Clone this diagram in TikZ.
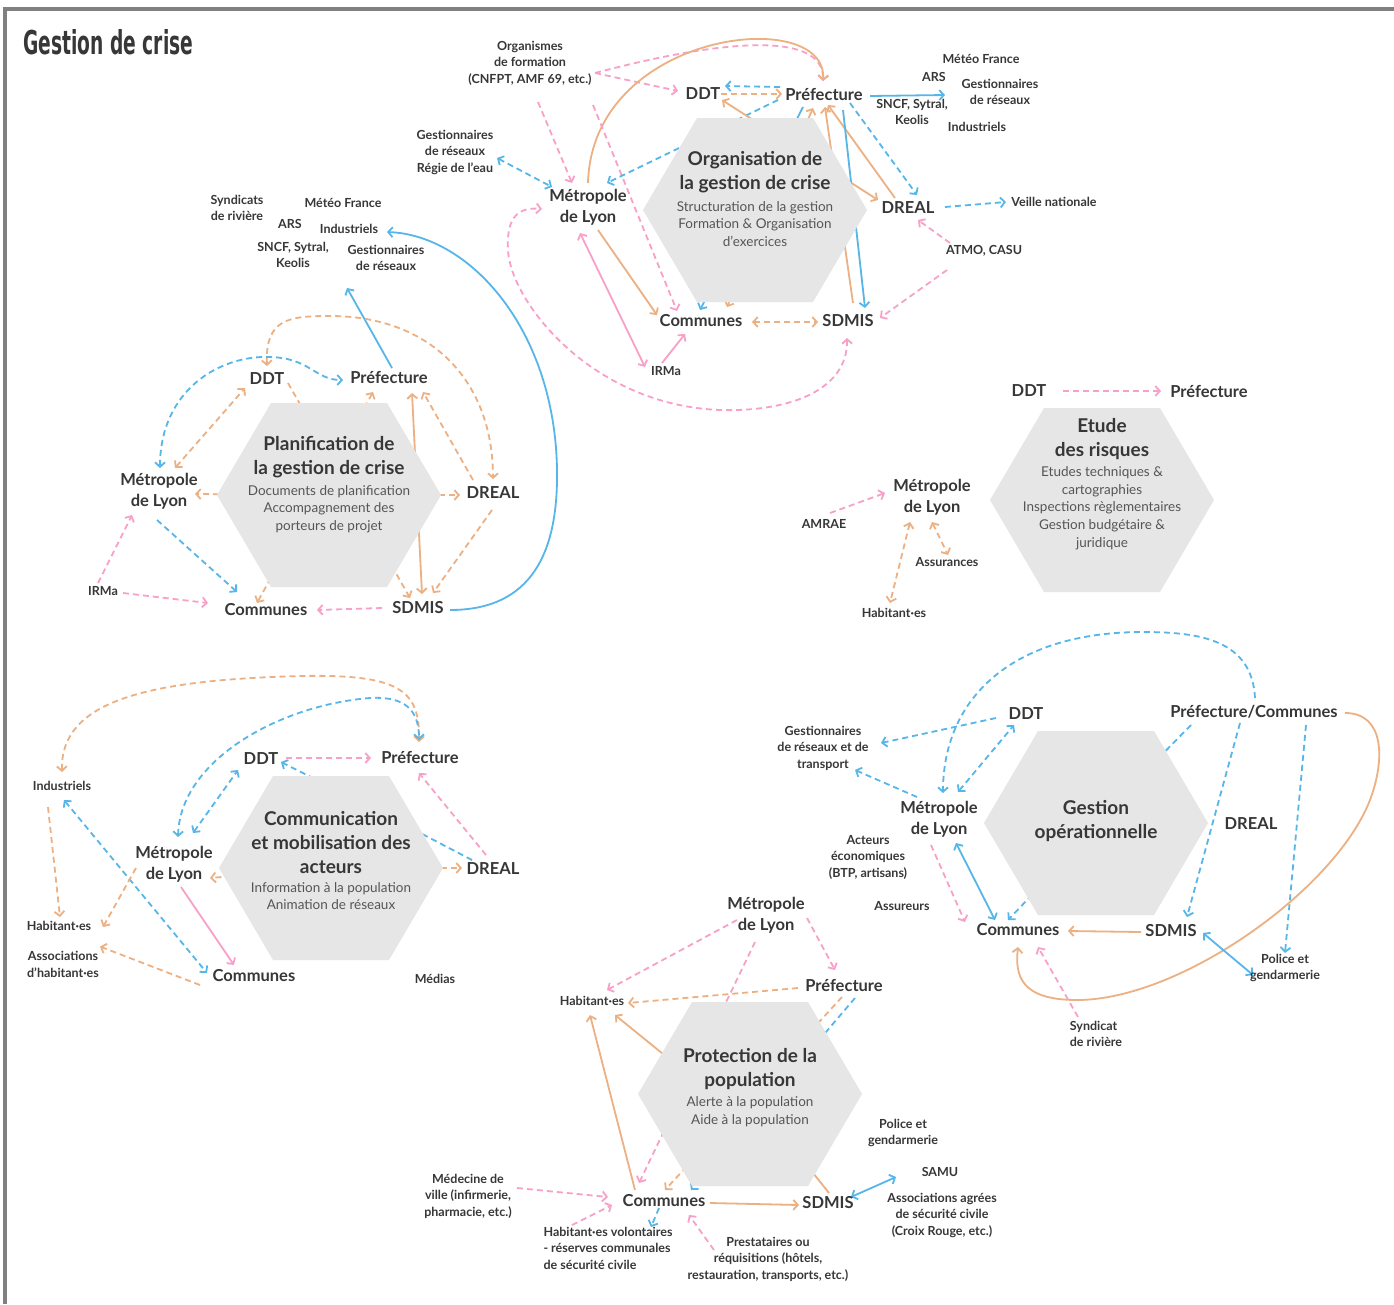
\documentclass[tikz,border=0pt]{standalone}
\usepackage{fontspec}
\usepackage{graphicx}
\setmainfont{Lato}
\newfontfamily\titlefam{DejaVu Sans}
\usetikzlibrary{arrows.meta}
\pgfdeclarelayer{background}
\pgfsetlayers{background,main}
\definecolor{orC}{RGB}{236,176,130}
\definecolor{blC}{RGB}{86,182,232}
\definecolor{pkC}{RGB}{249,160,200}
\definecolor{txC}{RGB}{55,55,55}
\definecolor{subC}{RGB}{85,85,85}
\definecolor{hexC}{RGB}{230,230,230}
\definecolor{frC}{RGB}{128,128,128}
\newcommand\mylab{\bfseries\fontsize{16.5}{21.5}\selectfont}
\newcommand\mysm{\bfseries\fontsize{12.5}{16.5}\selectfont}
\newcommand\myttl{\bfseries\fontsize{19}{24}\selectfont}
\newcommand\mysub{\fontsize{13.5}{17.7}\selectfont}
\newcommand\hexat[1]{\fill[hexC] ([shift={(-112,0)}]#1) -- ([shift={(-58,-92)}]#1) -- ([shift={(58,-92)}]#1) -- ([shift={(112,0)}]#1) -- ([shift={(58,92)}]#1) -- ([shift={(-58,92)}]#1) -- cycle;}
\begin{document}
\begin{tikzpicture}[x=1pt,y=-1pt,
  >={Straight Barb[length=4.5pt,width=10pt]},
  oS/.style={draw=orC,line width=1.8pt},
  oD/.style={oS,dash pattern=on 6pt off 4pt},
  bS/.style={draw=blC,line width=1.8pt},
  bD/.style={bS,dash pattern=on 6pt off 4pt},
  pS/.style={draw=pkC,line width=1.8pt},
  pD/.style={pS,dash pattern=on 6pt off 4pt},
  big/.style={font=\mylab,text=txC,align=center,inner sep=1pt},
  sml/.style={font=\mysm,text=txC,align=center,inner sep=1pt},
  hexttl/.style={font=\myttl,text=txC,align=center,inner sep=0pt},
  hexsub/.style={font=\mysub,text=subC,align=center,inner sep=0pt}]
\useasboundingbox (0,0) rectangle (1394,1304);
\draw[frC,line width=4pt] (5,1304) -- (5,9) -- (1394,9);
\node[anchor=west,inner sep=0pt,text=txC] (title) at (23,42.5) {\resizebox{170pt}{25pt}{\titlefam\bfseries Gestion de crise}};
% hex centres
\coordinate (hA) at (755,210);
\coordinate (hB) at (329,495);
\coordinate (hC) at (1102,500);
\coordinate (hD) at (331,868);
\coordinate (hE) at (1096,823);
\coordinate (hF) at (750,1094);
\hexat{hA}\hexat{hB}\hexat{hC}\hexat{hD}\hexat{hE}\hexat{hF}
% ---------- A : Organisation
\node[hexttl] (hAt) at (755,172) {Organisation de\\la gestion de crise};
\node[hexsub] (hAs) at (755,224) {Structuration de la gestion\\Formation \& Organisation\\d'exercices};
\node[sml] (aOrg) at (530,63) {Organismes\\de formation\\(CNFPT, AMF 69, etc.)};
\node[big] (aDDT) at (703,94) {DDT};
\node[big] (aPref) at (824,94) {Préfecture};
\node[sml] (aMeteo) at (981,59) {Météo France};
\node[sml] (aARS) at (934,77) {ARS};
\node[sml] (aGest) at (1000,92) {Gestionnaires\\de réseaux};
\node[sml] (aSNCF) at (912,112) {SNCF, Sytral,\\Keolis};
\node[sml] (aInd) at (977,127) {Industriels};
\node[sml] (aGreg) at (455,152) {Gestionnaires\\de réseaux\\Régie de l'eau};
\node[big] (aMet) at (588,207) {Métropole\\de Lyon};
\node[big] (aDREAL) at (908,208) {DREAL};
\node[sml] (aVeille) at (1054,202) {Veille nationale};
\node[sml] (aATMO) at (984,251) {ATMO, CASU};
\node[big] (aComm) at (701,321) {Communes};
\node[big] (aSDMIS) at (848,321) {SDMIS};
\node[sml] (aIRMa) at (666,371) {IRMa};
\coordinate (aPartners) at (945,95);
% ---------- B : Planification
\node[hexttl] (hBt) at (329,457) {Planification de\\la gestion de crise};
\node[hexsub] (hBs) at (329,509) {Documents de planification\\Accompagnement des\\porteurs de projet};
\node[sml] (bSynd) at (237,208) {Syndicats\\de rivière};
\node[sml] (bMeteo) at (343,203) {Météo France};
\node[sml] (bARS) at (290,224) {ARS};
\node[sml] (bInd) at (349,229) {Industriels};
\node[sml] (bSNCF) at (293,255) {SNCF, Sytral,\\Keolis};
\node[sml] (bGest) at (386,258) {Gestionnaires\\de réseaux};
\node[big] (bDDT) at (267,379) {DDT};
\node[big] (bPref) at (389,377) {Préfecture};
\node[big] (bMet) at (159,491) {Métropole\\de Lyon};
\node[big] (bDREAL) at (493,493) {DREAL};
\node[sml] (bIRMa) at (103,591) {IRMa};
\node[big] (bComm) at (266,610) {Communes};
\node[big] (bSDMIS) at (418,608) {SDMIS};
\coordinate (bPartners) at (347,288);
% ---------- C : Etude
\node[hexttl] (hCt) at (1102,439) {Etude\\des risques};
\node[hexsub] (hCs) at (1102,508) {Etudes techniques \&\\cartographies\\Inspections règlementaires\\Gestion budgétaire \&\\juridique};
\node[big] (cDDT) at (1029,391) {DDT};
\node[big] (cPref) at (1209,391) {Préfecture};
\node[big] (cMet) at (932,497) {Métropole\\de Lyon};
\node[sml] (cAMRAE) at (824,524) {AMRAE};
\node[sml] (cAssur) at (947,562) {Assurances};
\node[sml] (cHab) at (894,613) {Habitant·es};
% ---------- D : Communication
\node[hexttl] (hDt) at (331,842) {Communication\\et mobilisation des\\acteurs};
\node[hexsub] (hDs) at (331,896) {Information à la population\\Animation de réseaux};
\node[sml] (dInd) at (62,786) {Industriels};
\node[sml] (dHab) at (59,926) {Habitant·es};
\node[sml] (dAssoc) at (63,964.5) {Associations\\d'habitant·es};
\node[big] (dDDT) at (261,759) {DDT};
\node[big] (dPref) at (420,757) {Préfecture};
\node[big] (dMet) at (174,864) {Métropole\\de Lyon};
\node[big] (dDREAL) at (493,869) {DREAL};
\node[big] (dComm) at (254,976) {Communes};
\node[sml] (dMedias) at (435,979) {Médias};
% ---------- E : Gestion operationnelle
\node[hexttl] (hEt) at (1096,821) {Gestion\\opérationnelle};
\node[sml] (eGest) at (823,748) {Gestionnaires\\de réseaux et de\\transport};
\node[big] (eDDT) at (1026,714) {DDT};
\node[big] (ePC) at (1254,712) {Préfecture/Communes};
\node[big] (eMet) at (939,819) {Métropole\\de Lyon};
\node[big] (eDREAL) at (1251,824) {DREAL};
\node[sml] (eAct) at (868,857) {Acteurs\\économiques\\(BTP, artisans)};
\node[sml] (eAssur) at (902,906) {Assureurs};
\node[big] (eComm) at (1018,930) {Communes};
\node[big] (eSDMIS) at (1171,931) {SDMIS};
\node[sml] (ePol) at (1285,968) {Police et\\gendarmerie};
\node[sml,align=left] (eSynd) at (1096,1034) {Syndicat\\de rivière};
% ---------- F : Protection
\node[hexttl] (hFt) at (750,1069) {Protection de la\\population};
\node[hexsub] (hFs) at (750,1111.5) {Alerte à la population\\Aide à la population};
\node[big] (fMet) at (766,915) {Métropole\\de Lyon};
\node[big] (fPref) at (844,985) {Préfecture};
\node[sml] (fHab) at (592,1001) {Habitant·es};
\node[sml] (fPol) at (903,1133) {Police et\\gendarmerie};
\node[sml] (fSAMU) at (940,1172) {SAMU};
\node[sml] (fAssoc) at (942,1215) {Associations agrées\\de sécurité civile\\(Croix Rouge, etc.)};
\node[sml] (fMed) at (468,1196) {Médecine de\\ville (infirmerie,\\pharmacie, etc.)};
\node[big] (fComm) at (664,1201) {Communes};
\node[big] (fSDMIS) at (828,1203) {SDMIS};
\node[sml,align=left] (fVol) at (608,1248) {Habitant·es volontaires\\- réserves communales\\de sécurité civile};
\node[sml] (fPrest) at (768,1259) {Prestataires ou\\réquisitions (hôtels,\\restauration, transports, etc.)};
% ================= connectors
\begin{pgfonlayer}{background}
\fill[white] (0,0) rectangle (1394,1304);
% A
\draw[pD,->] ([shift={(65,10)}]aOrg.center) -- ([shift={(-25,-3)}]aDDT.center);
\draw[pD,->] ([shift={(65,10)}]aOrg.center) .. controls (720,40) and (824,30) .. ([shift={(-1,-13)}]aPref.center);
\draw[oS,->] ([shift={(0,-24)}]aMet.center) .. controls (592,30) and (828,5) .. ([shift={(-1,-13)}]aPref.center);
\draw[pD,->] ([shift={(8,39)}]aOrg.center) -- ([shift={(-16,-24)}]aMet.center);
\draw[pD,->] ([shift={(63,42)}]aOrg.center) -- ([shift={(-24,-10)}]aComm.center);
\draw[bD,<->] ([shift={(42,6)}]aGreg.center) -- ([shift={(-36,-20)}]aMet.center);
\draw[bD,->] ([shift={(-46,6)}]aPref.center) -- ([shift={(19,-24)}]aMet.center);
\draw[bD,->] ([shift={(-44,-7)}]aPref.center) -- ([shift={(22,-8)}]aDDT.center);
\draw[oD,->] ([shift={(18,0)}]aDDT.center) -- ([shift={(-42,0)}]aPref.center);
\draw[oS,<->] ([shift={(19,6)}]aDDT.center) -- ([shift={(-30,-8)}]aDREAL.center);
\draw[bS,->] ([shift={(-21,13)}]aPref.center) -- ([shift={(-1,-11)}]aComm.center);
\draw[oS,<->] ([shift={(-11,14)}]aPref.center) -- ([shift={(26,-14)}]aComm.center);
\draw[oS,->] ([shift={(5,-18)}]aSDMIS.center) -- ([shift={(1,13)}]aPref.center);
\draw[oS,->] ([shift={(-13,-10)}]aDREAL.center) -- ([shift={(4,11)}]aPref.center);
\draw[bS,->] ([shift={(19,16)}]aPref.center) -- ([shift={(17,-13)}]aSDMIS.center);
\draw[bD,->] ([shift={(26,9)}]aPref.center) -- ([shift={(9,-13)}]aDREAL.center);
\draw[bS,->] ([shift={(46,2)}]aPref.center) -- (aPartners);
\draw[bD,->] ([shift={(37,-1)}]aDREAL.center) -- ([shift={(-48,0)}]aVeille.center);
\draw[pD,->] ([shift={(-34,-8)}]aATMO.center) -- ([shift={(10,12)}]aDREAL.center);
\draw[pD,->] ([shift={(-37,19)}]aATMO.center) -- ([shift={(32,-3)}]aSDMIS.center);
\draw[oD,<->] ([shift={(51,1)}]aComm.center) -- ([shift={(-30,1)}]aSDMIS.center);
\draw[pD,<->] ([shift={(-1,17)}]aSDMIS.center) .. controls (848,390) and (790,412) .. (720,410) .. controls (590,405) and (510,300) .. (508,250) .. controls (506,215) and (520,207) .. ([shift={(-46,2)}]aMet.center);
\draw[pS,<->] ([shift={(-8,26)}]aMet.center) -- ([shift={(-21,-4)}]aIRMa.center);
\draw[pS,->] ([shift={(-4,-8)}]aIRMa.center) -- ([shift={(-16,13)}]aComm.center);
\draw[oS,->] ([shift={(10,23)}]aMet.center) -- ([shift={(-44,-6)}]aComm.center);
% B
\draw[bS,->] ([shift={(3,-9)}]bPref.center) -- (bPartners);
\draw[bS,->] ([shift={(32,2)}]bSDMIS.center) .. controls (540,610) and (558,540) .. (557,470) .. controls (555,330) and (470,235) .. ([shift={(38,3)}]bInd.center);
\draw[oD,<->] ([shift={(0,-13)}]bDDT.center) .. controls (265,318) and (290,316) .. (330,316) .. controls (430,316) and (493,380) .. ([shift={(0,-14)}]bDREAL.center);
\draw[bD,<->] ([shift={(1,-23)}]bMet.center) .. controls (160,390) and (220,355) .. (270,357) .. controls (310,358) and (315,380) .. ([shift={(-46,3)}]bPref.center);
\draw[oD,<->] ([shift={(16,-23)}]bMet.center) -- ([shift={(-22,9)}]bDDT.center);
\draw[oD,->] ([shift={(21,4)}]bDDT.center) -- ([shift={(-8,-10)}]bSDMIS.center);
\draw[oD,<->] ([shift={(-16,15)}]bPref.center) -- ([shift={(-9,-7)}]bComm.center);
\draw[oS,<->] ([shift={(23,16)}]bPref.center) -- ([shift={(4,-14)}]bSDMIS.center);
\draw[oD,->] ([shift={(-20,-13)}]bDREAL.center) -- ([shift={(34,15)}]bPref.center);
\draw[oD,->] (hB) -- ([shift={(-33,2)}]bDREAL.center);
\draw[oD,->] (hB) -- ([shift={(36,3)}]bMet.center);
\draw[oD,->] ([shift={(-1,17)}]bDREAL.center) -- ([shift={(15,-15)}]bSDMIS.center);
\draw[bD,->] ([shift={(-2,29)}]bMet.center) -- ([shift={(-29,-18)}]bComm.center);
\draw[pD,->] ([shift={(-5,-8)}]bIRMa.center) -- ([shift={(-27,24)}]bMet.center);
\draw[pD,->] ([shift={(20,2)}]bIRMa.center) -- ([shift={(-58,-7)}]bComm.center);
\draw[pD,->] ([shift={(-36,0)}]bSDMIS.center) -- ([shift={(51,0)}]bComm.center);
% C
\draw[pD,->] ([shift={(34,0)}]cDDT.center) -- ([shift={(-48,0)}]cPref.center);
\draw[pD,->] ([shift={(6,-11)}]cAMRAE.center) -- ([shift={(-47,-4)}]cMet.center);
\draw[oD,<->] ([shift={(0,25)}]cMet.center) -- ([shift={(1,-7)}]cAssur.center);
\draw[oD,<->] ([shift={(-22,25)}]cMet.center) -- ([shift={(-4,-10)}]cHab.center);
% D
\draw[oD,<->] ([shift={(0,-14)}]dInd.center) .. controls (60,700) and (150,680) .. (300,676) .. controls (400,674) and (420,690) .. ([shift={(-1,-15)}]dPref.center);
\draw[bD,<->] ([shift={(4,-27)}]dMet.center) .. controls (180,760) and (280,705) .. (370,698) .. controls (405,696) and (419,710) .. ([shift={(-1,-17)}]dPref.center);
\draw[bD,<->] ([shift={(19,-31)}]dMet.center) -- ([shift={(-23,11)}]dDDT.center);
\draw[bD,->] ([shift={(28,-67)}]hD) -- ([shift={(20,3)}]dDDT.center);
\draw[pD,->] ([shift={(25,-1)}]dDDT.center) -- ([shift={(-49,1)}]dPref.center);
\draw[pD,->] ([shift={(-7,-14)}]dDREAL.center) -- ([shift={(-1,16)}]dPref.center);
\draw[bD] ([shift={(-21,-9)}]dDREAL.center) -- ([shift={(49,-56)}]hD);
\draw[oD,->] (hD) -- ([shift={(-31,-1)}]dDREAL.center);
\draw[oD,->] (hD) -- ([shift={(36,14)}]dMet.center);
\draw[oD,->] ([shift={(-14,21)}]dInd.center) -- ([shift={(1,-9)}]dHab.center);
\draw[bD,<->] ([shift={(2,14)}]dInd.center) -- ([shift={(-47,-3)}]dComm.center);
\draw[oD,->] ([shift={(-38,4)}]dMet.center) -- ([shift={(44,1)}]dHab.center);
\draw[pS,->] ([shift={(7,23)}]dMet.center) -- ([shift={(-20,-11)}]dComm.center);
\draw[oD,->] ([shift={(-54,9)}]dComm.center) -- ([shift={(37,-18)}]dAssoc.center);
% E
\draw[bD,->] ([shift={(1,-14)}]ePC.center) .. controls (1252,640) and (1200,632) .. (1143,632) .. controls (1010,632) and (943,700) .. ([shift={(4,-26)}]eMet.center);
\draw[bD,->] ([shift={(-30,4)}]eDDT.center) -- ([shift={(58,-5)}]eGest.center);
\draw[bD,<->] ([shift={(19,-27)}]eMet.center) -- ([shift={(-12,11)}]eDDT.center);
\draw[bD,->] ([shift={(-22,-22)}]eMet.center) -- ([shift={(32,22)}]eGest.center);
\draw[bD] ([shift={(-63,13)}]ePC.center) -- ([shift={(44,-46)}]hE);
\draw[bD,->] ([shift={(-14,11)}]ePC.center) -- ([shift={(16,-14)}]eSDMIS.center);
\draw[bD,->] ([shift={(52,13)}]ePC.center) -- ([shift={(0,-15)}]ePol.center);
\draw[oS,->] ([shift={(91,1)}]ePC.center) .. controls (1385,713) and (1385,760) .. (1370,800) .. controls (1335,890) and (1180,1000) .. (1077,1000) .. controls (1020,1000) and (1015,975) .. ([shift={(0,17)}]eComm.center);
\draw[oS,->] ([shift={(-30,1)}]eSDMIS.center) -- ([shift={(50,1)}]eComm.center);
\draw[bS,<->] ([shift={(32,2)}]eSDMIS.center) -- ([shift={(-32,7)}]ePol.center);
\draw[bS,<->] ([shift={(17,24)}]eMet.center) -- ([shift={(-23,-10)}]eComm.center);
\draw[pD,->] ([shift={(-8,26)}]eMet.center) -- ([shift={(-53,-8)}]eComm.center);
\draw[bD,->] ([shift={(-50,57)}]hE) -- ([shift={(-10,-10)}]eComm.center);
\draw[pD,->] ([shift={(-18,-17)}]eSynd.center) -- ([shift={(20,17)}]eComm.center);
% F
\draw[pD,->] ([shift={(-29,5)}]fMet.center) -- ([shift={(15,-11)}]fHab.center);
\draw[pD,->] ([shift={(-11,27)}]fMet.center) -- ([shift={(-25,-18)}]fComm.center);
\draw[pD,->] ([shift={(41,3)}]fMet.center) -- ([shift={(-9,-15)}]fPref.center);
\draw[oD,->] ([shift={(-46,3)}]fPref.center) -- ([shift={(36,2)}]fHab.center);
\draw[oD,->] ([shift={(-2,12)}]fPref.center) -- ([shift={(1,-11)}]fComm.center);
\draw[bD,->] ([shift={(11,13)}]fPref.center) -- ([shift={(27,-11)}]fComm.center);
\draw[bD,->] ([shift={(-5,7)}]fComm.center) -- ([shift={(43,-21)}]fVol.center);
\draw[oS,->] ([shift={(-50,-10)}]hF) -- ([shift={(23,14)}]fHab.center);
\draw[oS,->] ([shift={(-29,-11)}]fComm.center) -- ([shift={(-2,14)}]fHab.center);
\draw[oS,->] ([shift={(46,2)}]fComm.center) -- ([shift={(-29,2)}]fSDMIS.center);
\draw[oS] (hF) -- ([shift={(1,-10)}]fSDMIS.center);
\draw[bS,<->] ([shift={(23,-6)}]fSDMIS.center) -- ([shift={(-44,5)}]fSAMU.center);
\draw[pD,->] ([shift={(49,-8)}]fMed.center) -- ([shift={(-56,-4)}]fComm.center);
\draw[pD,->] ([shift={(-36,-23)}]fVol.center) -- ([shift={(-52,4)}]fComm.center);
\draw[pD,->] ([shift={(-54,-9)}]fPrest.center) -- ([shift={(25,14)}]fComm.center);
\end{pgfonlayer}
\end{tikzpicture}
\end{document}
